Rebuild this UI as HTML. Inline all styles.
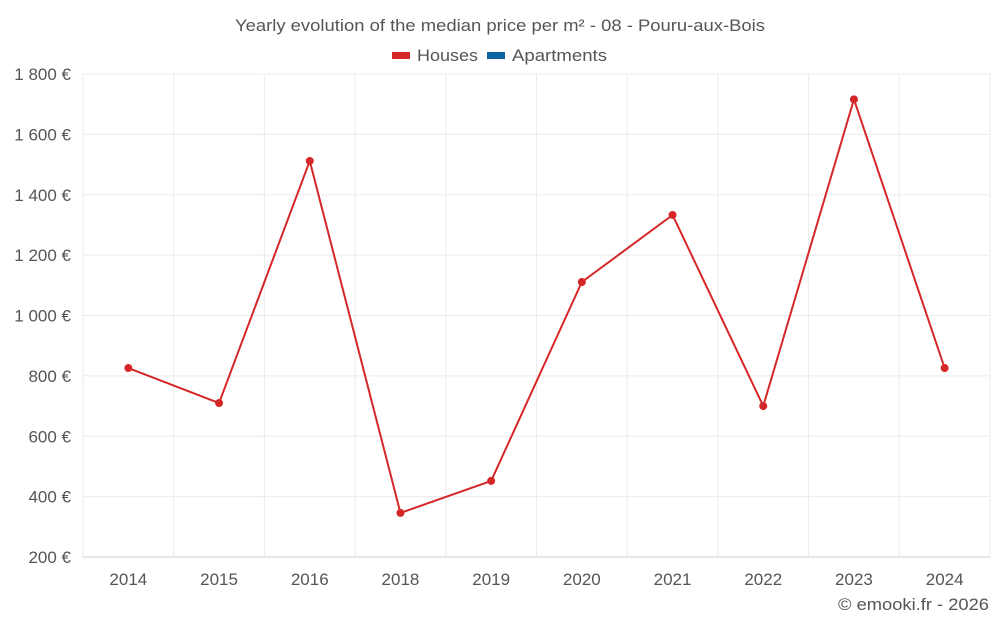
<!DOCTYPE html>
<html><head><meta charset="utf-8"><style>
body{margin:0;background:#fff;font-family:"Liberation Sans",sans-serif;}
svg text{font-family:"Liberation Sans",sans-serif;}
</style></head><body>
<svg id="chart" width="1000" height="625" xmlns="http://www.w3.org/2000/svg">
<text x="500" y="31" text-anchor="middle" font-size="17" textLength="530" lengthAdjust="spacingAndGlyphs" fill="#555">Yearly evolution of the median price per m² - 08 - Pouru-aux-Bois</text>
<g><rect x="392" y="52" width="18" height="7" fill="#d62728"/><text x="417" y="61" font-size="17" textLength="61" lengthAdjust="spacingAndGlyphs" fill="#555">Houses</text></g>
<g><rect x="487" y="52" width="18" height="7" fill="#0a64a0"/><text x="512" y="61" font-size="17" textLength="95" lengthAdjust="spacingAndGlyphs" fill="#555">Apartments</text></g>
<g id="grid"></g><g id="axes"></g><g id="series"></g>
<text x="989" y="610" text-anchor="end" font-size="17" textLength="151" lengthAdjust="spacingAndGlyphs" fill="#555">© emooki.fr - 2026</text>
</svg>
<script>
const categories=["2014","2015","2016","2018","2019","2020","2021","2022","2023","2024"];
const houses=[826,710,1512,346,452,1111,1333,700,1716,826];
const yTicks=[200,400,600,800,1000,1200,1400,1600,1800];
const yTickLabels=["200 €","400 €","600 €","800 €","1 000 €","1 200 €","1 400 €","1 600 €","1 800 €"];
const X0=83,X1=990,Y0=557,Y1=74,YMIN=200,YMAX=1800;
const NS="http://www.w3.org/2000/svg";
const bw=(X1-X0)/categories.length;
function x(i){return X0+bw*(i+0.5);}
function y(v){return Y0-(v-YMIN)/(YMAX-YMIN)*(Y0-Y1);}
function mk(t,a,p){const e=document.createElementNS(NS,t);for(const k in a)e.setAttribute(k,a[k]);p.appendChild(e);return e;}
const g=document.getElementById('grid'),ax=document.getElementById('axes'),s=document.getElementById('series');
yTicks.forEach((v,i)=>{
 const l=mk('line',{x1:X0,x2:X1,y1:y(v),y2:y(v),stroke:v===YMIN?'#ccc':'#ebebeb'},g);
 
 
 const t=mk('text',{x:71,y:y(v)+6,'text-anchor':'end','font-size':17,fill:'#555'},ax);
 t.textContent=yTickLabels[i];
 
 
});
for(let i=0;i<=categories.length;i++){
 const l=mk('line',{x1:X0+bw*i,x2:X0+bw*i,y1:Y1,y2:Y0,stroke:'#ebebeb'},g);
 
 
}
categories.forEach((c,i)=>{
 const t=mk('text',{x:x(i),y:585,'text-anchor':'middle','font-size':17,fill:'#555'},ax);
 t.textContent=c;
 
 
});
const pl=mk('polyline',{points:houses.map((v,i)=>x(i)+','+y(v)).join(' '),fill:'none',stroke:'#d62728','stroke-width':2},s);


houses.forEach((v,i)=>{
 const c=mk('circle',{cx:x(i),cy:y(v),r:4,fill:'#d62728'},s);
 
 
});
</script>
</body></html>
